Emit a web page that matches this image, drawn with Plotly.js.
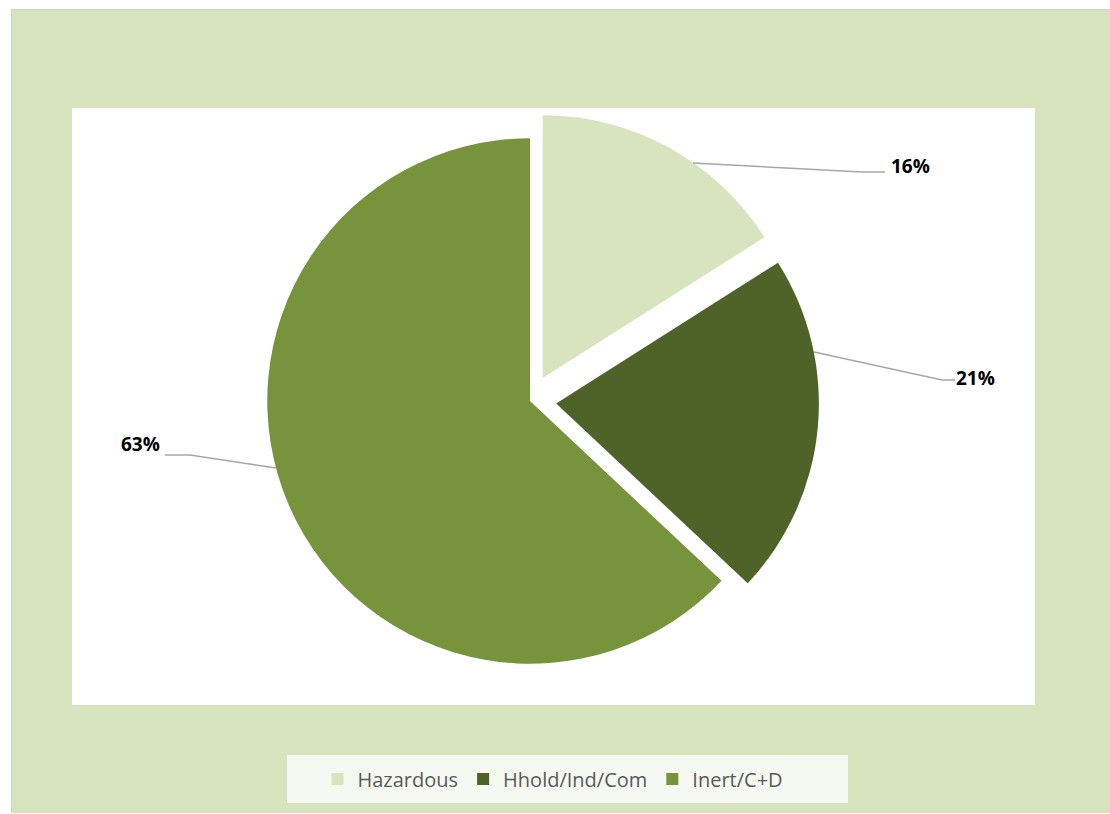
<!DOCTYPE html>
<html>
<head>
<meta charset="utf-8">
<script src="https://cdn.plot.ly/plotly-3.0.1.min.js"></script>
<style>
  html, body { margin: 0; padding: 0; background: #ffffff; }
  #frame { position: absolute; left: 11px; top: 9px; width: 1099px; height: 804px; background: #d0d0d0; }
  #chart { position: absolute; left: 1px; top: 1px; width: 1098px; height: 803px; }
</style>
</head>
<body>
<div id="frame"><div id="chart"></div></div>
<script>
const categories = ["Hazardous", "Hhold/Ind/Com", "Inert/C+D"];
const shares = [16, 21, 63];
const sliceColors = ["#D7E4BD", "#4F6228", "#77933C"];
const pulls = [0.1, 0.1, 0];

const W = 1098, H = 803, ox = 12, oy = 10;
const px = x => (x - ox) / W;
const py = y => 1 - (y - oy) / H;

const trace = {
  type: "pie",
  labels: categories,
  values: shares,
  sort: false,
  direction: "clockwise",
  rotation: 0,
  pull: pulls,
  marker: { colors: sliceColors, line: { color: "rgba(0,0,0,0)", width: 0 } },
  textinfo: "none",
  domain: { x: [px(240), px(820)], y: [py(690), py(112)] },
  hoverinfo: "label+percent"
};

// leader-line label layout (positions of text and line ends, in page pixels)
const labelPos = [
  { tx: 910, ty: 166, line: [[693, 163], [862, 172], [885, 172]] },
  { tx: 975, ty: 378, line: [[814, 352], [942, 380], [955, 380]] },
  { tx: 140, ty: 444, line: [[276, 468], [190, 455], [165, 455]] }
];

const annotations = labelPos.map((p, i) => ({
  xref: "paper", yref: "paper",
  x: px(p.tx), y: py(p.ty), xanchor: "center", yanchor: "middle",
  showarrow: false,
  text: "<b>" + shares[i] + "%</b>",
  font: { family: "Open Sans, Liberation Sans, sans-serif", size: 19, color: "#000000" }
}));

const leaderShapes = labelPos.map(p => ({
  type: "path", xref: "paper", yref: "paper", layer: "above",
  path: p.line.map((pt, j) => (j ? "L" : "M") + px(pt[0]) + "," + py(pt[1])).join(" "),
  line: { color: "#A6A6A6", width: 1.5 }
}));

const layout = {
  width: W, height: H,
  margin: { l: 0, r: 0, t: 0, b: 0 },
  paper_bgcolor: "#D8E4BD",
  showlegend: true,
  legend: {
    orientation: "h",
    x: px(553), xanchor: "center",
    y: py(779), yanchor: "middle",
    bgcolor: "rgba(0,0,0,0)",
    borderwidth: 0,
    font: { family: "Open Sans, Liberation Sans, sans-serif", size: 20, color: "#595959" },
    itemwidth: 30,
    traceorder: "normal"
  },
  annotations: annotations,
  shapes: [
    { type: "rect", xref: "paper", yref: "paper", layer: "below",
      x0: px(72), x1: px(1035), y0: py(705), y1: py(108),
      fillcolor: "#ffffff", line: { width: 0 } },
    { type: "rect", xref: "paper", yref: "paper", layer: "below",
      x0: px(287), x1: px(848), y0: py(803), y1: py(755),
      fillcolor: "#F6F9F1", line: { width: 0 } }
  ].concat(leaderShapes)
};

Plotly.newPlot("chart", [trace], layout, { displayModeBar: false, staticPlot: true });
</script>
</body>
</html>
